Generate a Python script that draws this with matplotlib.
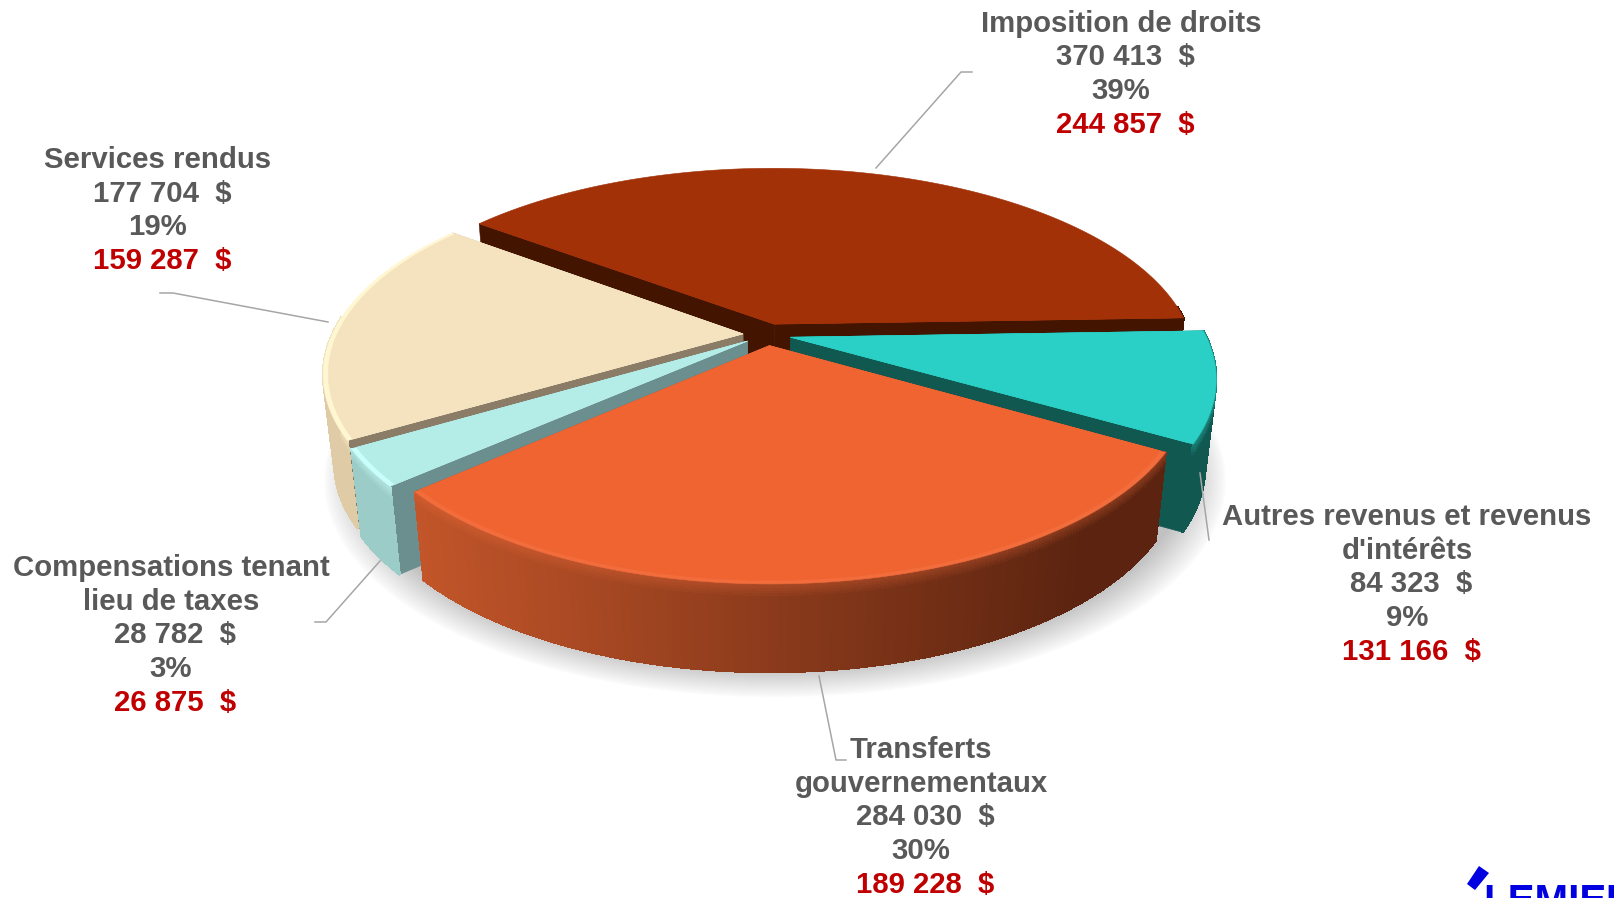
import numpy as np
import matplotlib
matplotlib.use("Agg")
import matplotlib.pyplot as plt
from matplotlib.patches import Polygon
from matplotlib.colors import to_rgb

plt.rcParams['font.family'] = ['Liberation Sans', 'DejaVu Sans']

# --- data
categories = ["Imposition de droits", "Autres revenus et revenus\nd'intérêts",
              "Transferts\ngouvernementaux", "Compensations tenant\nlieu de taxes", "Services rendus"]
values = [370413, 84323, 284030, 28782, 177704]
percents = [39, 9, 30, 3, 19]
previous = [244857, 131166, 189228, 26875, 159287]

# --- styles
top_colors = ['#A23108', '#2AD0C6', '#F06432', '#B4ECE7', '#F5E3BF']
rim_colors = ['#A23108', '#2AD0C6', '#F26C3C', '#C8FFFB', '#FFF6D2']
bevel_amount = [0.0, 0.35, 0.3, 0.5, 0.5]
radial_colors = ['#431400', '#105850', '#5C2410', '#6B8F8F', '#8A7C66']
wall_left = ['#431400', '#105850', '#C4562A', '#9CCCC8', '#DFCBA5']
wall_right = ['#431400', '#105850', '#5C2410', '#9CCCC8', '#DFCBA5']
radii = [1.005, 1.0, 0.982, 0.985, 0.99]
label_pos = [(1121, 23.5), (1407, 517), (921, 750), (171, 568), (158, 160)]
leaders = [[(876, 168), (961, 72), (972, 72)],
           [(1200, 473), (1209, 540)],
           [(819, 676), (836, 760), (846, 760)],
           [(380, 561), (326, 622), (315, 622)],
           [(328, 322), (173, 293), (160, 293)]]
START = 143.0
CX, CY, RX, RY, K, EXPL, DEPTH, BOTTOM = 767, 334.5, 415, 190, 0.2, 0.058, 88, 0.975

fig = plt.figure(figsize=(16.14, 8.98), dpi=100)
ax = fig.add_axes([0, 0, 1, 1])
ax.set_xlim(0, 1614)
ax.set_ylim(898, 0)
ax.axis('off')


def proj(t, r=1.0, z=0.0, mid=None):
    t = np.radians(t)
    u, v = r * np.cos(t), r * np.sin(t)
    if mid is not None:
        m = np.radians(mid)
        u, v = u + EXPL * np.cos(m), v + EXPL * np.sin(m)
    s = 1 / (1 + K * v)
    f = 1 - (1 - BOTTOM) * z
    return (CX + RX * u * s * f, CY - RY * v * s * f + DEPTH * z * s ** 0.3)


def mix(a, b, f):
    a, b = np.array(to_rgb(a)), np.array(to_rgb(b))
    return tuple(a + (b - a) * np.clip(f, 0, 1))


def poly(pts, color, z=2, aa=True, lw=0.4):
    ax.add_patch(Polygon(pts, closed=True, facecolor=color, edgecolor=color, lw=lw, zorder=z, antialiased=aa))


sweeps = 360 * np.array(values) / np.sum(values)
ends = START - np.cumsum(sweeps)
starts = ends + sweeps

# soft shadow under the pie
ang = np.linspace(0, 360, 200)
for w in np.linspace(1.07, 0.98, 30):
    pts = [(CX + 8 + (proj(a, 1.02, 1.0)[0] - CX) * w, CY + 8 + (proj(a, 1.02, 1.0)[1] - CY) * w) for a in ang]
    ax.add_patch(Polygon(pts, closed=True, facecolor='#505050', edgecolor='none', alpha=0.012, zorder=1))

# draw far to near
z0 = 2
for i in [0, 1, 4, 3, 2]:
    a0, a1 = starts[i], ends[i]
    mid = (a0 + a1) / 2
    R = radii[i]
    n = max(int(abs(a0 - a1) * 2), 4)
    ts = np.linspace(a0, a1, n + 1)
    # radial walls
    for a in (a0, a1):
        poly([proj(0, 0, 0, mid), proj(a, R, 0, mid), proj(a, R, 1, mid), proj(0, 0, 1, mid)], radial_colors[i], z0)
    # outer wall (front part only): smooth silhouette, then gradient strips
    vis = ts[np.sin(np.radians(ts)) < 0.1]
    if len(vis) > 1:
        xa = proj(-140, 1)[0]
        xb = proj(-50, 1)[0]
        zs = [0, 0.03, 0.06, 0.09, 0.12, 0.15, 1]
        sil = [proj(a, R, 0, mid) for a in vis] + [proj(a, R, 1, mid) for a in vis[::-1]]
        poly(sil, mix(wall_left[i], wall_right[i], 0.5), z0)
        for ta, tb in zip(vis[:-1], vis[1:]):
            x = proj(ta, R, 0, mid)[0]
            c = mix(wall_left[i], wall_right[i], (x - xa) / (xb - xa))
            for j in range(len(zs) - 1):
                f = 1 - j / 5 if j < 5 else 0
                col = mix(c, rim_colors[i], f * bevel_amount[i])
                poly([proj(ta, R, zs[j], mid), proj(tb, R, zs[j], mid),
                      proj(tb, R, zs[j + 1], mid), proj(ta, R, zs[j + 1], mid)], col, z0, aa=False, lw=1.0)
    # top face with a thin rim
    top = [proj(0, 0, 0, mid)] + [proj(a, R, 0, mid) for a in ts]
    poly(top, rim_colors[i], z0)
    inner = [proj(0, 0, 0, mid)] + [proj(a, R * 0.988, 0, mid) for a in ts]
    poly(inner, top_colors[i], z0)
    z0 += 1

# leader lines
for pts in leaders:
    xs, ys = zip(*pts)
    ax.plot(xs, ys, color='#A6A6A6', lw=1.1, zorder=20)

# labels
LH = 33.7
FS = 21.15
for i, (x, y) in enumerate(label_pos):
    lines = categories[i].split("\n")
    for line in lines:
        ax.text(x, y, line, ha='center', va='center', fontsize=FS, fontweight='bold', color='#595959', zorder=30)
        y += LH
    val = f"{values[i]:,}".replace(",", " ")
    old = f"{previous[i]:,}".replace(",", " ")
    ax.text(x + 4, y, f"{val}  $", ha='center', va='center', fontsize=FS, fontweight='bold', color='#595959', zorder=30)
    y += LH
    ax.text(x, y, f"{percents[i]}%", ha='center', va='center', fontsize=FS, fontweight='bold', color='#595959', zorder=30)
    y += LH
    ax.text(x + 4, y, f"{old}  $", ha='center', va='center', fontsize=FS, fontweight='bold', color='#C00000', zorder=30)

# logo
ax.add_patch(Polygon([(1479, 866), (1489, 873), (1475, 890), (1467, 884)], closed=True, facecolor='#0000E0', edgecolor='none', zorder=30))
ax.text(1483, 883, "LEMIEUX", ha='left', va='top', fontsize=29, fontweight='bold', color='#0000E0', zorder=30)

fig.savefig("out.png", dpi=100)
